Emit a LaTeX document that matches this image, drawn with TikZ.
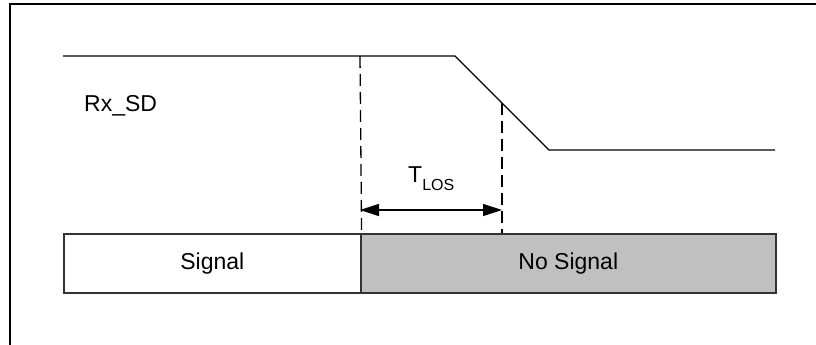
\documentclass[tikz,border=0pt]{standalone}
\usepackage{fontspec}
\setmainfont{Liberation Sans}
\usetikzlibrary{arrows.meta}
\definecolor{nosig}{RGB}{192,192,192}
\tikzset{
    wave/.style={line width=1.4pt},
    guide/.style={line width=1.3pt, dash pattern=on 12pt off 6pt},
    cell/.style={draw=black!80, line width=1.6pt, minimum height=59pt, anchor=north west,
        font=\fontsize{23}{27}\selectfont, inner sep=0pt},
    lbl/.style={font=\fontsize{23}{27}\selectfont, inner sep=0pt}
}
\begin{document}
\begin{tikzpicture}[x=1pt,y=-1pt]
    \useasboundingbox (0,0) rectangle (816,345);
    \draw[line width=2pt] (10,345) -- (10,4) -- (816,4);

    % Rx_SD waveform
    \coordinate (hiL) at (63,56);
    \coordinate (hiR) at (455,56);
    \coordinate (loL) at (549,150);
    \coordinate (loR) at (775,150);
    \draw[wave] (hiL) -- (hiR) -- (loL) -- (loR);
    \node[lbl, anchor=base west] (rxsd) at (84,111) {Rx\_SD};

    % state bar
    \node[cell, minimum width=297pt] (sig) at (63,233) {Signal};
    \node[cell, minimum width=415pt, fill=nosig] (nosig) at (360,233) {No Signal};

    % loss time
    \coordinate (t0) at (360,56);
    \coordinate (t1) at (502,103);
    \draw[guide] (t0) -- (sig.north east);
    \draw[guide] (t1) -- (t1 |- sig.north);
    \coordinate (a0) at (360,210);
    \coordinate (a1) at (502,210);
    \draw[line width=1.3pt, {Triangle[length=19pt,width=12pt]}-{Triangle[length=19pt,width=12pt]}] (a0) -- (a1);
    \node[lbl, anchor=base west] (tlos) at (408,182) {T\raisebox{-8pt}{\fontsize{16}{16}\selectfont LOS}};
\end{tikzpicture}
\end{document}
